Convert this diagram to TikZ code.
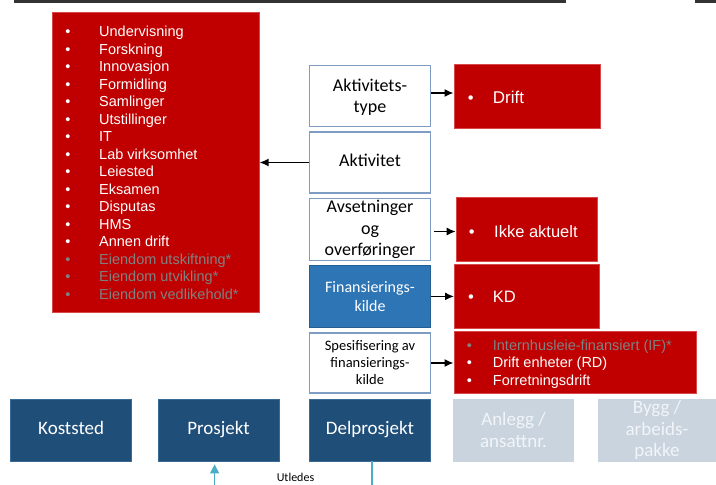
\documentclass[tikz,border=0pt]{standalone}
\usepackage{fontspec}
\setmainfont{Liberation Sans}
\newfontfamily\calibri{Carlito}
\usetikzlibrary{arrows.meta, positioning}
\definecolor{boxred}{HTML}{C00000}
\definecolor{redline}{HTML}{D84848}
\definecolor{frameblue}{HTML}{7F9DC3}
\definecolor{finblue}{HTML}{2E75B6}
\definecolor{darkblue}{HTML}{1F4E79}
\definecolor{darkline}{HTML}{3A6A96}
\definecolor{paleblue}{HTML}{C9D4DF}
\definecolor{paletext}{HTML}{F2F5F8}
\definecolor{dimtext}{HTML}{808080}
\definecolor{tealline}{HTML}{4BACC6}

\begin{document}
\begin{tikzpicture}[x=1pt, y=-1pt,
        redbox/.style={fill=boxred, draw=redline, line width=0.6pt, inner sep=0, anchor=north west},
        framebox/.style={draw=frameblue, line width=1.6pt, fill=white, inner sep=0, minimum width=121pt,
            align=center, font=\calibri\fontsize{18}{21.5}\selectfont},
        finbox/.style={framebox, fill=finblue, draw=finblue!80!black, line width=0.8pt, text=white,
            font=\calibri\fontsize{16}{18.5}\selectfont},
        dimbox/.style={draw=darkline, line width=0.8pt, fill=darkblue, text=white, inner sep=0,
            minimum width=121pt, minimum height=62pt, align=center, font=\calibri\fontsize{19}{21.5}\selectfont},
        palebox/.style={dimbox, draw=paleblue, fill=paleblue, text=paletext},
        dot/.style={anchor=base, inner sep=0, text=white, font=\fontsize{14.5}{17.5}\selectfont},
        item/.style={anchor=base west, inner sep=0, text=white, font=\fontsize{14.5}{17.5}\selectfont},
        big/.style={font=\fontsize{16.5}{19}\selectfont},
        dim/.style={text=dimtext},
        arr/.style={-{Latex[length=9pt, width=8pt]}, line width=1.4pt},
        tealarr/.style={-{Triangle[length=9pt, width=9pt]}, draw=tealline, fill=tealline, line width=1.3pt}
    ]
    \useasboundingbox (0,0) rectangle (716,485);
    \clip (0,0) rectangle (716,485);

    % top rule
    \draw[line width=2.5pt, black!80] (14,1.5) -- (566,1.5);
    \draw[line width=2.5pt, black!80] (695,1.5) -- (716,1.5);

    % list of activities
    \node[redbox, minimum width=207pt, minimum height=300pt] (actlist) at (52,12) {};
    \foreach \txt [count=\i] in {Undervisning,Forskning,Innovasjon,Formidling,Samlinger,Utstillinger,IT,
            Lab virksomhet,Leiested,Eksamen,Disputas,HMS,Annen drift}
        {
        \node[dot] (ldot\i) at (68,{36.7+17.5*(\i-1)}) {\textbullet};
        \node[item] (litem\i) at (99,{36.7+17.5*(\i-1)}) {\txt};
        }
    \foreach \txt [count=\i from 14] in {Eiendom utskiftning*,Eiendom utvikling*,Eiendom vedlikehold*}
        {
        \node[dot, dim] (ldot\i) at (68,{36.7+17.5*(\i-1)}) {\textbullet};
        \node[item, dim] (litem\i) at (99,{36.7+17.5*(\i-1)}) {\txt};
        }

    % middle column
    \node[framebox, minimum height=61pt] (akttype) at (370,96) {\strut Aktivitets-\\type};
    \node[framebox, minimum height=61pt] (akt) at (370,162.5) {\strut Aktivitet};
    \node[framebox, minimum height=62pt] (avs) at (370,229.5) {Avsetninger\\og\\overføringer};
    \node[finbox, minimum height=62pt] (fin) at (370,296.4) {Finansierings-\\kilde};
    \node[framebox, minimum height=60pt, font=\calibri\fontsize{14.5}{17}\selectfont] (spes) at (370,363)
        {Spesifisering av\\finansierings-\\kilde};

    % values
    \node[redbox, minimum width=146.5pt, minimum height=63.4pt] (drift) at (453.5,64.3) {};
    \node[dot, big] (ddot) at (470.7,103) {\textbullet};
    \node[item, big, font=\fontsize{17}{19}\selectfont] (dtxt) at (492.7,103) {Drift};

    \node[redbox, minimum width=141.6pt, minimum height=63.4pt] (ikke) at (455.7,197.3) {};
    \node[dot, big] (idot) at (471.7,237.5) {\textbullet};
    \node[item, big] (itxt) at (494,237.5) {Ikke aktuelt};

    \node[redbox, minimum width=145pt, minimum height=63.7pt] (kd) at (454,264) {};
    \node[dot, big] (kdot) at (471,302.5) {\textbullet};
    \node[item, big] (ktxt) at (492.7,302.5) {KD};

    \node[redbox, minimum width=242.5pt, minimum height=61.7pt] (intern) at (453.5,331) {};
    \node[dot, dim] (sdot1) at (469.5,350) {\textbullet};
    \node[item, dim] (stxt1) at (492.7,350) {Internhusleie-finansiert (IF)*};
    \node[dot] (sdot2) at (469.5,367.7) {\textbullet};
    \node[item] (stxt2) at (492.7,367.7) {Drift enheter (RD)};
    \node[dot] (sdot3) at (469.5,385) {\textbullet};
    \node[item] (stxt3) at (492.7,385) {Forretningsdrift};

    % arrows
    \draw[arr] ([yshift=3pt]akttype.east) -- ([yshift=3pt]akttype.east -| drift.west);
    \draw[arr] (akt.west) -- (akt.west -| actlist.east);
    \draw[arr, shorten <=3pt] ([yshift=-2pt]avs.east) -- ([yshift=-2pt]avs.east -| ikke.west);
    \draw[arr] (fin.east) -- (fin.east -| kd.west);
    \draw[arr] (spes.east) -- (spes.east -| intern.west);

    % dimensions
    \node[dimbox] (kost) at (71.2,430) {\strut Koststed};
    \node[dimbox] (prosj) at (218.5,430) {\strut Prosjekt};
    \node[dimbox] (delprosj) at (370,430) {\strut Delprosjekt};
    \node[palebox, minimum width=120pt] (anlegg) at (513.5,430) {Anlegg /\\ansattnr.};
    \node[palebox, minimum width=118pt] (bygg) at (657,430) {Bygg /\\arbeids-\\pakke};

    \coordinate (tealfoot) at (214.6,490);
    \coordinate (delfoot) at (372,490);
    \draw[tealarr, shorten >=3pt] (tealfoot) -- (tealfoot |- prosj.south);
    \draw[draw=tealline, line width=1.3pt] (delfoot |- delprosj.south) -- (delfoot);
    \node[anchor=base, inner sep=0, font=\calibri\fontsize{12}{14}\selectfont] (utl) at (295.5,481) {Utledes};
\end{tikzpicture}
\end{document}
